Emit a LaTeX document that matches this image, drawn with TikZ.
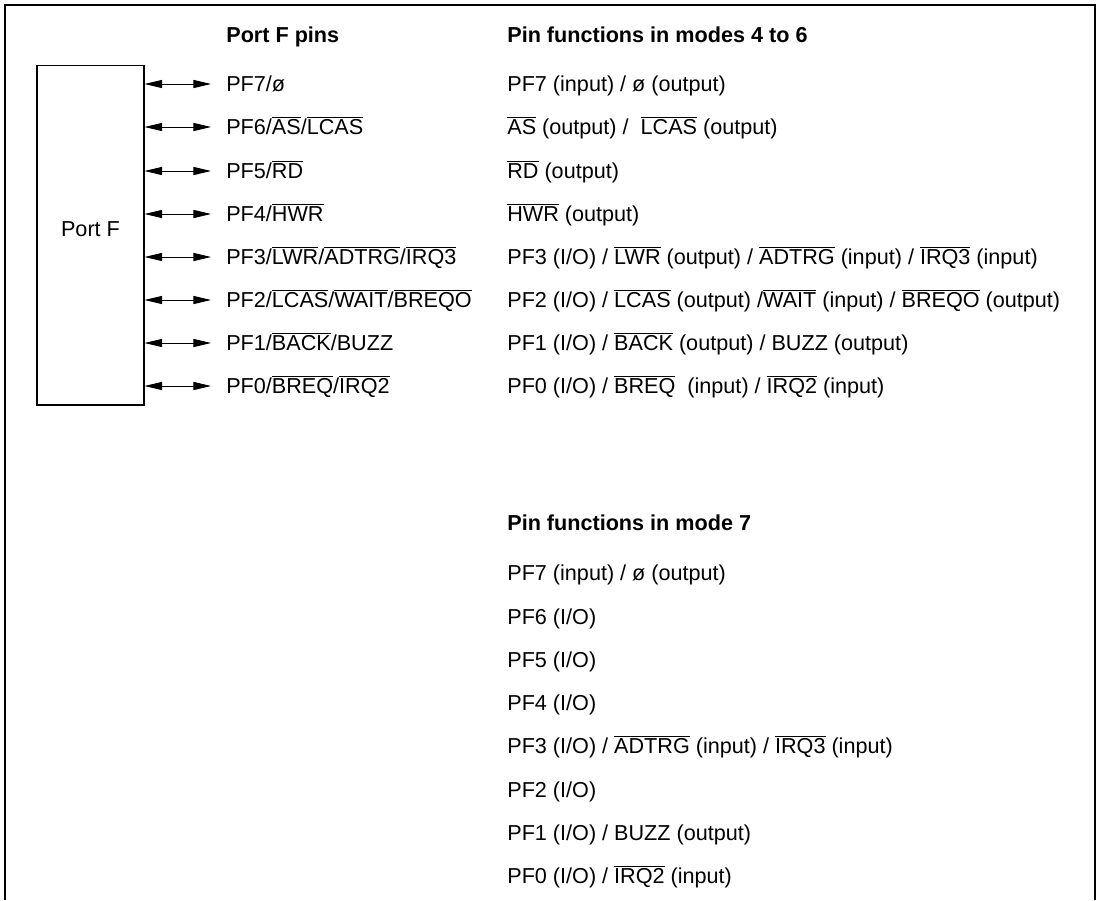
\documentclass[tikz,border=0pt]{standalone}
\usepackage{fontspec}
\setmainfont{Liberation Sans}
\usetikzlibrary{arrows.meta,positioning}
\newcommand{\ovl}[1]{$\overline{\mbox{#1}}$}
\tikzset{
  portbox/.style={draw, line width=0.6pt, minimum width=2.14cm, minimum height=6.8cm},
  pinlabel/.style={anchor=west, inner xsep=8.5pt, inner ysep=0pt, text height=8.8pt, text depth=0pt},
  functext/.style={anchor=west, inner sep=0pt, text height=8.8pt, text depth=0pt},
  heading/.style={anchor=west, inner sep=0pt, font=\fontsize{12.3}{14.5}\selectfont\bfseries, text height=8.8pt, text depth=0pt},
  pinarrow/.style={{Triangle[length=10pt,width=4.6pt]}-{Triangle[length=10pt,width=4.6pt]}, line width=0.5pt},
}

\begin{document}
\begin{tikzpicture}[x=0.02cm, y=-0.02cm, font=\fontsize{12.3}{14.5}\selectfont]
    \useasboundingbox (0,0) rectangle (1098,900);

    % Frame (open at the bottom)
    \draw[line width=0.8pt] (5,900) -- (5,5) -- (1095,5) -- (1095,900);

    % Port F block
    \node[portbox] (portf) at (90.5,235) {};
    \node (portname) at (90.5,229) {Port F};

    % Port F pins
    \node[heading] (pinshead) at (226,35) {Port F pins};
    \node[pinlabel] (pin7) at (211,84) {PF7/ø};
    \node[pinlabel] (pin6) at (211,127) {PF6/\ovl{AS}/\ovl{LCAS}};
    \node[pinlabel] (pin5) at (211,171) {PF5/\ovl{RD}};
    \node[pinlabel] (pin4) at (211,214) {PF4/\ovl{HWR}};
    \node[pinlabel] (pin3) at (211,257) {PF3/\ovl{LWR}/\ovl{ADTRG}/\ovl{IRQ3}};
    \node[pinlabel] (pin2) at (211,300) {PF2/\ovl{LCAS}/\ovl{WAIT}/\ovl{BREQO}};
    \node[pinlabel] (pin1) at (211,343) {PF1/\ovl{BACK}/BUZZ};
    \node[pinlabel] (pin0) at (211,386) {PF0/\ovl{BREQ}/\ovl{IRQ2}};

    \foreach \n in {0,...,7}
      \draw[pinarrow] (portf.east |- pin\n.west) -- (pin\n.west);

    % Modes 4 to 6
    \node[heading] (modeAhead) at (507,35) {Pin functions in modes 4 to 6};
    \node[functext] (modeA7) at (507,84) {PF7 (input) / ø (output)};
    \node[functext] (modeA6) at (507,127) {\ovl{AS} (output) / \ \ovl{LCAS} (output)};
    \node[functext] (modeA5) at (507,171) {\ovl{RD} (output)};
    \node[functext] (modeA4) at (507,214) {\ovl{HWR} (output)};
    \node[functext] (modeA3) at (507,257) {PF3 (I/O) / \ovl{LWR} (output) / \ovl{ADTRG} (input) / \ovl{IRQ3} (input)};
    \node[functext] (modeA2) at (507,300) {PF2 (I/O) / \ovl{LCAS} (output) /\ovl{WAIT} (input) / \ovl{BREQO} (output)};
    \node[functext] (modeA1) at (507,343) {PF1 (I/O) / \ovl{BACK} (output) / BUZZ (output)};
    \node[functext] (modeA0) at (507,386) {PF0 (I/O) / \ovl{BREQ} \ (input) / \ovl{IRQ2} (input)};

    % Mode 7
    \node[heading] (modeBhead) at (507,523) {Pin functions in mode 7};
    \node[functext] (modeB7) at (507,573) {PF7 (input) / ø (output)};
    \node[functext] (modeB6) at (507,617) {PF6 (I/O)};
    \node[functext] (modeB5) at (507,660) {PF5 (I/O)};
    \node[functext] (modeB4) at (507,703) {PF4 (I/O)};
    \node[functext] (modeB3) at (507,746) {PF3 (I/O) / \ovl{ADTRG} (input) / \ovl{IRQ3} (input)};
    \node[functext] (modeB2) at (507,790) {PF2 (I/O)};
    \node[functext] (modeB1) at (507,833) {PF1 (I/O) / BUZZ (output)};
    \node[functext] (modeB0) at (507,876) {PF0 (I/O) / \ovl{IRQ2} (input)};
  \end{tikzpicture}
\end{document}
